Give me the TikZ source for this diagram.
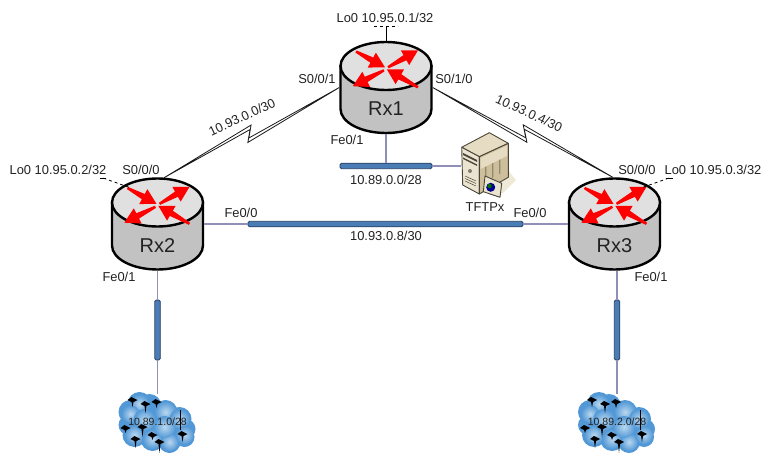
\documentclass[tikz,border=0pt]{standalone}
\usepackage{fontspec}
\setmainfont{Liberation Sans}
\usetikzlibrary{calc,positioning}

\definecolor{linkblue}{HTML}{8F8FB8}
\definecolor{barblue}{HTML}{4A7DB5}
\definecolor{bardark}{HTML}{27405F}
\definecolor{labelgray}{HTML}{222222}
\definecolor{clouddark}{HTML}{5298D6}
\definecolor{cloudlight}{HTML}{BAD8F0}
\definecolor{servertop}{HTML}{E6DCC3}
\definecolor{serverfront}{HTML}{EBE4D0}
\definecolor{serverside}{HTML}{CDBF9B}
\definecolor{serverline}{HTML}{4A4538}
\definecolor{servershade}{HTML}{EFE9D8}

\newcommand{\routernode}[3]{%
  \begin{scope}[shift={(#2)}]
    \path[fill=black!24,draw=black,line width=2.4pt]
      (-45.5,-21.5) -- (-45.5,21.5)
      arc[start angle=180,end angle=360,x radius=45.5pt,y radius=24pt]
      -- (45.5,-21.5) -- cycle;
    \path[fill=black!12,draw=black,line width=2.4pt]
      (0,-21.5) ellipse [x radius=45.5pt,y radius=24pt];
    \foreach \ax/\ay/\aang/\alen in {-30/-36/-28.6/33,2/-20.2/29.5/34.5,
        32/-.2/150/36,-2/-17.2/207/35}
      \fill[red,shift={(\ax,\ay)},rotate=\aang] (0,-1.2) -- (\alen-15,-3) -- (\alen-15,-8.5)
        -- (\alen,0) -- (\alen-15,8.5) -- (\alen-15,3) -- (0,1.2) -- cycle;
    \node[routerbox] (#1) at (0,0) {};
    \node[routername] (#1name) at (0,21.5) {#3};
  \end{scope}
}

\newcommand{\cloudnode}[3]{%
  \begin{scope}[shift={(#2)}]
    \foreach \cx/\cy/\cr in {-18/-18/12,-27/-10/12,-8/-16/12,8/-10/12,22/-3/12,
        28/7/10,-23/13/12,-29/3/10,-5/17/12,12/20/11,27/15/10,-13/-2/13,7/5/14}
      \fill[clouddark] (\cx,\cy) circle (\cr);
    \foreach \cx/\cy/\cr in {-18/-18/10,-27/-8/9,8/-10/11,22/-3/10,-23/13/10,
        -5/17/10,12/20/9,27/13/9,-13/-2/11,7/5/11}
      \shade[inner color=cloudlight,outer color=clouddark] (\cx,\cy) circle (\cr);
    \foreach \sx/\sy/\sl in {-25/-22/7,-12/-18/9,-1/-20/6,-32/6/5,-15/5/10,
        -5/13/5,25/12/8,-22/17/9,2/20/11}
      \fill[black] (\sx-5,\sy) -- (\sx-1,\sy-3) -- (\sx+5,\sy) -- (\sx+1,\sy+2)
        -- (\sx,\sy+\sl) -- (\sx-1,\sy+2) -- cycle;
    \draw[black,line width=.7pt] (23,-12) -- (23,8);
    \node[cloudbox] (#1) at (0,0) {#3};
  \end{scope}
}

\newcommand{\servernode}[2]{%
  \begin{scope}[shift={(#2)}]
    \fill[servershade] (23,4) -- (31,14) -- (18,27) -- (4,28) -- cycle;
    \path[fill=servertop,draw=serverline,line width=.9pt,line join=round]
      (4.3,-33.3) -- (-23.3,-18.7) -- (-5.7,-9.3) -- (23.3,-22.7) -- cycle;
    \path[fill=serverfront,draw=serverline,line width=.9pt,line join=round]
      (-23.3,-18.7) -- (-5.7,-9.3) -- (-5.7,28) -- (-22.3,19) -- cycle;
    \path[fill=serverside,draw=serverline,line width=.9pt,line join=round]
      (-5.7,-9.3) -- (23.3,-22.7) -- (23.3,11.3) -- (-5.7,28) -- cycle;
    \fill[servertop] (-4.5,-8) -- (22,-20.5) -- (22,-10) -- (-4.5,3) -- cycle;
    \foreach \bx in {0,7,14}
      \fill[serverline!45!serverside] (\bx,1-.5*\bx) -- (\bx+1.3,.5-.5*\bx)
        -- (\bx+1.3,15-.55*\bx) -- (\bx,16-.55*\bx) -- cycle;
    \fill[serverline] (-22,-13) -- (-8,-6) -- (-8,-4) -- (-22,-11) -- cycle;
    \fill[serverline] (-22,-8.5) -- (-8,-1.5) -- (-8,0) -- (-22,-7) -- cycle;
    \fill[serverline!70] (-15,5) circle (2);
    \foreach \vy in {10,12.5,15}
      \draw[serverline,line width=.5pt] (-20,\vy) -- (-9,\vy+5);
    \path[fill=serverfront,draw=serverline,line width=.9pt,line join=round]
      (0,10) -- (16.7,17.3) -- (15,31.3) -- (-1.7,25.7) -- cycle;
    \fill[blue!55!black] (5.7,21.3) circle (4.5);
    \fill[green!45!black] (4.5,20) circle (2.2);
    \node[serverbox] (#1) at (0,0) {};
  \end{scope}
}

\begin{document}
\begin{tikzpicture}[%
    x=1pt,
    y=-1pt,
    routerbox/.style={circle,minimum size=93pt,inner sep=0pt},
    routername/.style={font=\fontsize{20}{24}\selectfont,text=labelgray,inner sep=0pt},
    cloudbox/.style={minimum width=76pt,minimum height=56pt,inner sep=0pt,
      font=\fontsize{10.5}{12}\selectfont,text=labelgray},
    serverbox/.style={minimum width=47pt,minimum height=62pt,inner sep=0pt},
    lbl/.style={font=\fontsize{12.9}{15}\selectfont,text=labelgray,inner sep=0pt},
    lanbar/.style={fill=barblue,draw=bardark,line width=.8pt,rounded corners=1.5pt,inner sep=0pt},
    lanh/.style={lanbar,minimum height=5.5pt},
    lanv/.style={lanbar,minimum width=5.5pt,minimum height=60pt},
    lanlink/.style={draw=linkblue,line width=1.2pt},
    stub/.style={draw=black,line width=.8pt},
    serial/.style={draw=black!90,fill=white,line width=.8pt,line join=miter,
      to path={-- ($(\tikztostart)!.54!(\tikztotarget)!-#1*1.4pt!90:(\tikztotarget)$)
        -- ($(\tikztostart)!.50!(\tikztotarget)!#1*.7pt!90:(\tikztotarget)$)
        -- (\tikztotarget)
        -- ($(\tikztostart)!.485!(\tikztotarget)!#1*1.4pt!90:(\tikztotarget)$)
        -- ($(\tikztostart)!.525!(\tikztotarget)!-#1*.7pt!90:(\tikztotarget)$)
        -- cycle}}
  ]
  \useasboundingbox (0,0) rectangle (783,470);

  \routernode{Rx1}{386,87.5}{Rx1}
  \routernode{Rx2}{157.5,224}{Rx2}
  \routernode{Rx3}{614.5,224}{Rx3}

  \servernode{TFTPx}{485,166}
  \cloudnode{Net1}{157.5,422}{10.89.1.0/28}
  \cloudnode{Net2}{617,422}{10.89.2.0/28}

  \node[lanh,minimum width=92pt] (Lan0) at (386,166) {};
  \node[lanh,minimum width=275pt] (Lan8) at (385.5,224) {};
  \node[lanv] (Lan1) at (157.5,330) {};
  \node[lanv] (Lan2) at (617,330) {};

  \draw[lanlink] (Rx1.south) -- (Lan0.north);
  \draw[lanlink] (Lan0.east) -- (TFTPx.west);
  \draw[lanlink] (Rx2.east) -- (Lan8.west);
  \draw[lanlink] (Lan8.east) -- (Rx3.west);
  \draw[lanlink] (Rx2.south) -- (Lan1.north);
  \draw[lanlink] (Lan1.south) -- (Net1.north);
  \draw[lanlink] (Rx3.south -| Lan2.north) -- (Lan2.north);
  \draw[lanlink] (Lan2.south) -- (Net2.north);

  \draw[serial=-5] (Rx1.west) to (Rx2.82);
  \draw[serial=5] (Rx1.east) to (Rx3.92);

  \coordinate (Lo1) at (386,27);
  \coordinate (Lo2) at (103,178);
  \coordinate (Lo3) at (669,178);
  \draw[stub] (Rx1.north) -- (Lo1);
  \draw[stub,dashed] (374,26) -- (398,26);
  \draw[stub,dashed] (Rx2.128) -- (Lo2);
  \draw[stub] (100,178) -- (106,178);
  \draw[stub,dashed] (Rx3.52) -- (Lo3);
  \draw[stub] (666,178) -- (673,178);

  \node[lbl] (l1) at (385,18) {Lo0 10.95.0.1/32};
  \node[lbl] (l2) at (317,79) {S0/0/1};
  \node[lbl] (l3) at (454,79) {S0/1/0};
  \node[lbl] (l4) at (347,140) {Fe0/1};
  \node[lbl] (l5) at (386,180) {10.89.0.0/28};
  \node[lbl] (l6) at (485,207) {TFTPx};
  \node[lbl,rotate=25] (l7) at (242,117) {10.93.0.0/30};
  \node[lbl,rotate=-25] (l8) at (529,113) {10.93.0.4/30};
  \node[lbl] (l9) at (58,170) {Lo0 10.95.0.2/32};
  \node[lbl] (l10) at (141,170) {S0/0/0};
  \node[lbl] (l11) at (241,213) {Fe0/0};
  \node[lbl] (l12) at (119,277) {Fe0/1};
  \node[lbl] (l13) at (637,170) {S0/0/0};
  \node[lbl] (l14) at (713,170) {Lo0 10.95.0.3/32};
  \node[lbl] (l15) at (530,213) {Fe0/0};
  \node[lbl] (l16) at (651,277) {Fe0/1};
  \node[lbl] (l17) at (386,236) {10.93.0.8/30};
\end{tikzpicture}
\end{document}
